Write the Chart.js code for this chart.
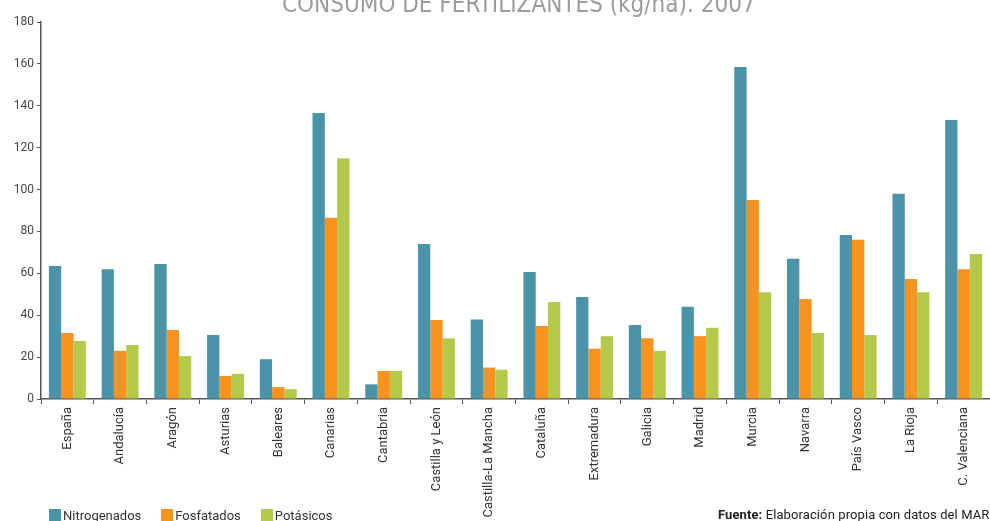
<!DOCTYPE html>
<html>
<head>
<meta charset="utf-8">
<script src="https://cdn.jsdelivr.net/npm/chart.js@4/dist/chart.umd.min.js"></script>
<style>
  body { margin: 0; background: #fff; }
  #wrap { position: relative; width: 990px; height: 521px; overflow: hidden; }
  #title { position: absolute; left: 282px; top: -10px; white-space: nowrap;
           font: 24px "DejaVu Sans Condensed", sans-serif; color: #9c9c9c; }
  #legend { position: absolute; left: 49px; top: 508px; font: 13px Roboto, sans-serif; color: #333; white-space: nowrap; }
  #legend span.item { display: inline-block; margin-right: 20px; }
  #legend span.box { display: inline-block; width: 12px; height: 12px; vertical-align: -1px; margin-right: 2px; }
  #fuente { position: absolute; left: 718px; top: 507px; font: 13px Roboto, sans-serif; color: #222; white-space: nowrap; letter-spacing: 0.1px; }
</style>
</head>
<body>
<div id="wrap">
  <canvas id="chart" width="990" height="521"></canvas>
  <div id="title">CONSUMO DE FERTILIZANTES (kg/ha). 2007</div>
  <div id="legend"></div>
  <div id="fuente"><b>Fuente:</b> Elaboración propia con datos del MARM</div>
</div>
<script>
// regiones
const regiones = ['España', 'Andalucía', 'Aragón', 'Asturias', 'Baleares', 'Canarias', 'Cantabria',
    'Castilla y León', 'Castilla-La Mancha', 'Cataluña', 'Extremadura', 'Galicia', 'Madrid',
    'Murcia', 'Navarra', 'País Vasco', 'La Rioja', 'C. Valenciana'];

// kg/ha por tipo de fertilizante
const nitrogenados = [63.5, 62, 64.5, 30.6, 19, 136.6, 7, 74, 38, 60.6, 48.7, 35.3, 44, 158.5, 67, 78.3, 98, 133.2];
const fosfatados   = [31.5, 23, 33, 11, 5.7, 86.5, 13.4, 37.7, 15, 34.8, 24, 29, 30, 95, 47.8, 76, 57.3, 62];
const potasicos    = [27.7, 25.8, 20.5, 12, 4.7, 115, 13.4, 29, 14, 46.3, 30, 23, 34, 51, 31.5, 30.5, 51, 69.2];

const yTicks = [0, 20, 40, 60, 80, 100, 120, 140, 160, 180];

const series = [
    { label: 'Nitrogenados', data: nitrogenados, color: '#4a93a8' },
    { label: 'Fosfatados', data: fosfatados, color: '#f7931e' },
    { label: 'Potásicos', data: potasicos, color: '#b4c94a' }
];

const AXIS = '#555';

new Chart(document.getElementById('chart').getContext('2d'), {
    type: 'bar',
    data: {
        labels: regiones,
        datasets: series.map(s => ({
            label: s.label, data: s.data, backgroundColor: s.color,
            categoryPercentage: 0.7, barPercentage: 1.0
        }))
    },
    options: {
        responsive: false,
        animation: false,
        layout: { padding: { top: 22, right: 0, left: 0, bottom: 0 } },
        plugins: { legend: { display: false }, tooltip: { enabled: false } },
        scales: {
            x: {
                grid: { display: true, drawOnChartArea: false, drawTicks: true, tickLength: 5, color: AXIS, offset: true },
                border: { color: AXIS, width: 1.5 },
                ticks: { autoSkip: false, minRotation: 90, maxRotation: 90, padding: 3,
                         font: { family: 'Roboto', size: 13 }, color: '#333' },
                afterFit: s => { s.height = 122; }
            },
            y: {
                min: 0, max: 180,
                afterBuildTicks: s => { s.ticks = yTicks.map(v => ({ value: v })); },
                grid: { display: true, drawOnChartArea: false, drawTicks: true, tickLength: 4, color: AXIS },
                border: { color: AXIS, width: 1.5 },
                ticks: { padding: 3, font: { family: 'Roboto', size: 12 }, color: '#444' },
                afterFit: s => { s.width = 41; }
            }
        }
    }
});

// leyenda
document.getElementById('legend').innerHTML = series.map(s =>
    `<span class="item"><span class="box" style="background:${s.color}"></span>${s.label}</span>`).join('');
</script>
</body>
</html>
